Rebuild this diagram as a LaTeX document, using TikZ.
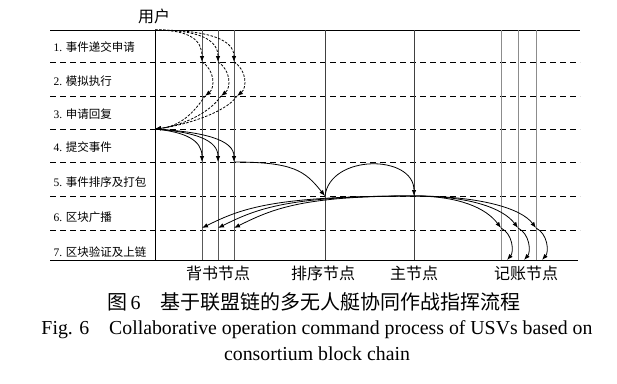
\documentclass[tikz,border=0pt]{standalone}
\usepackage{fontspec}
\setmainfont{Liberation Serif}
\newfontfamily\cjk{Noto Sans CJK SC}
\usetikzlibrary{arrows.meta}

\begin{document}
\begin{tikzpicture}[
		x=1pt,
		y=-1pt,
		seta/.style={-{Latex[length=6pt,width=4.5pt]}, line width=0.8pt},
		trac/.style={seta, dash pattern=on 2.5pt off 1.5pt},
		linha/.style={line width=0.9pt, dash pattern=on 6pt off 4pt},
		vida/.style={line width=0.8pt},
		rotulo/.style={anchor=west, font=\fontsize{11.5}{12}\selectfont},
		nome/.style={font=\cjk\fontsize{16}{18}\selectfont}
	]
	\useasboundingbox (0,0) rectangle (617,383);

	% ---- linhas horizontais -----------------------------------------
	\coordinate (r0) at (50,30);
	\coordinate (r7) at (50,260);
	\foreach \i/\y in {1/62,2/96,3/129,4/162,5/196,6/230} {
			\coordinate (r\i) at (50,\y);
			\draw[linha] (r\i) -- (580,\y);
		}
	\draw[vida] (r0) -- (580,30);
	\draw[vida] (r7) -- (578,260);

	% ---- linhas de vida --------------------------------------------
	\foreach \n/\x/\c in {user/155/black, e1/202/black!65, e2/218/black!65, e3/234/black!65,
			ord/325/black!75, main/414/black!75, a1/501/black!45, a2/518/black!45, a3/536/black!45} {
			\coordinate (\n) at (\x,30);
			\draw[vida, \c] (\n) -- (\x,260);
		}

	% ---- rotulos das fases -----------------------------------------
	\node[rotulo] (t1) at (50,47) {1. {\cjk 事件递交申请}};
	\node[rotulo] (t2) at (50,81) {2. {\cjk 模拟执行}};
	\node[rotulo] (t3) at (50,114) {3. {\cjk 申请回复}};
	\node[rotulo] (t4) at (50,147) {4. {\cjk 提交事件}};
	\node[rotulo] (t5) at (50,182) {5. {\cjk 事件排序及打包}};
	\node[rotulo] (t6) at (50,217) {6. {\cjk 区块广播}};
	\node[rotulo] (t7) at (50,252) {7. {\cjk 区块验证及上链}};

	% ---- fases 1 a 3 (tracejado) -----------------------------------
	\foreach \e/\d in {e1/35,e2/45,e3/55} {
			\draw[trac] (user) .. controls +(\d,0) and +(0,-22) .. (\e |- r1);
			\draw[trac] (\e |- r1) .. controls +(13,8) and +(10,-8) .. ([xshift=3pt]\e |- r2);
			\draw[trac] ([xshift=3pt]\e |- r2) .. controls +(-12,18) and +(25,-3) .. (user |- r3);
		}

	% ---- fase 4 e 5 ------------------------------------------------
	\foreach \e/\d in {e1/30,e2/40,e3/50}
	\draw[seta] (user |- r3) .. controls +(\d,3) and +(0,-22) .. (\e |- r4);
	\draw[seta] (e3 |- r4) .. controls +(60,0) and +(-20,-25) .. (ord |- r5);
	\draw[seta] (ord |- r5) .. controls +(5,-42) and +(0,-42) .. (main |- r5);

	% ---- fase 6 e 7 ------------------------------------------------
	\foreach \e/\d in {e1/140,e2/125,e3/110}
	\draw[seta] (main |- r5) .. controls +(-\d,0) and +(40,-20) .. ([yshift=2pt]\e |- r6);
	\foreach \a/\d in {a1/45,a2/55,a3/65} {
			\draw[seta] (main |- r5) .. controls +(\d,0) and +(-15,-20) .. ([yshift=2pt]\a |- r6);
			\draw[seta] ([yshift=2pt]\a |- r6) .. controls +(12,6) and +(7,-8) .. ([xshift=6pt]\a |- r7);
		}

	% ---- nomes dos nos ---------------------------------------------
	\node[nome] (luser) at (154,16) {用户};
	\node[nome] (lend) at (218,273) {背书节点};
	\node[nome] (lord) at (323,273) {排序节点};
	\node[nome] (lmain) at (414,273) {主节点};
	\node[nome] (lacc) at (526,273) {记账节点};

	% ---- legenda ---------------------------------------------------
	\node[font=\cjk\fontsize{20}{22}\selectfont] (cap1) at (314,302)
	{图\,{\rmfamily 6}\quad 基于联盟链的多无人艇协同作战指挥流程};
	\node[font=\fontsize{19.8}{26}\selectfont, align=center] (cap2) at (317,341)
	{Fig. 6\quad Collaborative operation command process of USVs based on\\consortium block chain};
\end{tikzpicture}
\end{document}
